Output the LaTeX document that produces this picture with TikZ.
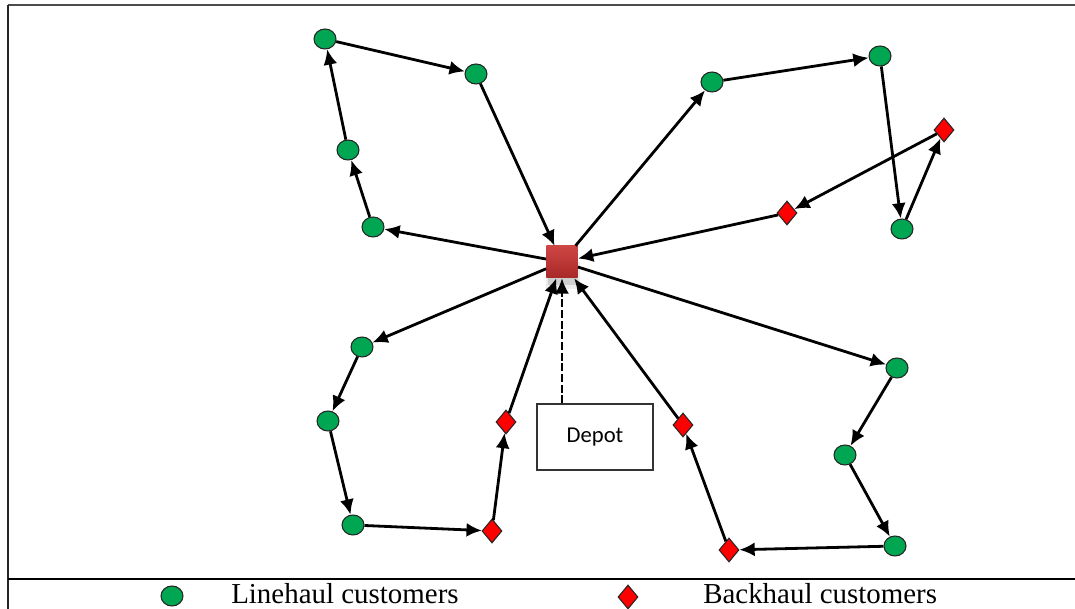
\documentclass[tikz,border=0pt]{standalone}
\usepackage{fontspec}
\setmainfont{Liberation Serif}
\newfontfamily\depotfont{Carlito}
\usetikzlibrary{shapes.geometric,arrows.meta,calc}
\definecolor{lgreen}{RGB}{0,166,81}
\definecolor{bred}{RGB}{255,0,0}
\definecolor{deptop}{RGB}{206,70,68}
\definecolor{depbot}{RGB}{168,40,40}
\tikzset{
  line/.style={line width=2.1pt,-{Latex[length=11.5pt,width=10.5pt]}},
  lh/.style={ellipse,draw=black!85,line width=0.8pt,fill=lgreen,minimum width=16.5pt,minimum height=15pt,inner sep=0pt},
  bh/.style={diamond,draw=black!85,line width=0.8pt,fill=bred,minimum width=15pt,minimum height=18pt,inner sep=0pt},
  depotsq/.style={rectangle,minimum width=23.5pt,minimum height=24pt,inner sep=0pt,top color=deptop,bottom color=depbot,draw=none},
  labelbox/.style={rectangle,draw=black!80,line width=0.9pt,minimum width=87pt,minimum height=49.5pt,font=\depotfont\fontsize{17pt}{20pt}\selectfont},
  legtext/.style={anchor=base west,inner sep=0pt,font=\fontsize{21.7pt}{24pt}\selectfont}
}
\begin{document}
\begin{tikzpicture}[x=0.75pt,y=-0.75pt]
\useasboundingbox (0,0) rectangle (1075,609);
% frame
\draw[line width=1.6pt,black!70] (8,5) -- (1075,5);
\draw[line width=1.8pt,black!85] (8,5) -- (8,609);
\draw[line width=1.8pt,black] (8,579) -- (1075,579);
% depot shadow
\fill[black,opacity=0.12] (548,262) rectangle (578,285);
\fill[black,opacity=0.08] (546,262) rectangle (580,289);
\node[depotsq] (dep) at (562,262) {};
% linehaul / backhaul customers
\node[lh] (a1) at (325,39) {};
\node[lh] (a2) at (476,74) {};
\node[lh] (a3) at (348,150) {};
\node[lh] (a4) at (373,227) {};
\node[lh] (b1) at (712,82) {};
\node[lh] (b2) at (880,56) {};
\node[lh] (b3) at (902,229) {};
\node[bh] (b4) at (944,130) {};
\node[bh] (b5) at (787,213) {};
\node[lh] (c1) at (362,347) {};
\node[lh] (c2) at (328,421) {};
\node[lh] (c3) at (353,525) {};
\node[bh] (c4) at (492,531) {};
\node[bh] (c5) at (506,422) {};
\node[lh] (d1) at (897,368) {};
\node[lh] (d2) at (845,455) {};
\node[lh] (d3) at (895,546) {};
\node[bh] (d4) at (729,550) {};
\node[bh] (d5) at (683,425) {};
% routes
\draw[line] (dep) -- (a4);
\draw[line] (a4) -- (a3);
\draw[line] (a3) -- (a1);
\draw[line] (a1) -- (a2);
\draw[line] (a2) -- (dep);
\draw[line] (dep) -- (b1);
\draw[line] (b1) -- (b2);
\draw[line] (b2) -- (b3);
\draw[line] (b3) -- (b4);
\draw[line] (b4) -- (b5);
\draw[line] (b5) -- (dep);
\draw[line] (dep) -- (c1);
\draw[line] (c1) -- (c2);
\draw[line] (c2) -- (c3);
\draw[line] (c3) -- (c4);
\draw[line] (c4) -- (c5);
\draw[line] (c5) -- (dep);
\draw[line] (dep) -- (d1);
\draw[line] (d1) -- (d2);
\draw[line] (d2) -- (d3);
\draw[line] (d3) -- (d4);
\draw[line] (d4) -- (d5);
\draw[line] (d5) -- (dep);
% depot label
\node[labelbox] (box) at (595,437) {Depot};
\draw[line width=1.7pt,dash pattern=on 6pt off 2pt,-{Latex[length=11.5pt,width=10.5pt]}] (box.north -| dep.south) -- (dep.south);
% legend
\node[lh] (leg1) at (172,596) {};
\node[legtext] (leg1t) at (231,603.5) {Linehaul customers};
\node[bh] (leg2) at (628,597) {};
\node[legtext] (leg2t) at (703,603.5) {Backhaul customers};
\end{tikzpicture}
\end{document}
